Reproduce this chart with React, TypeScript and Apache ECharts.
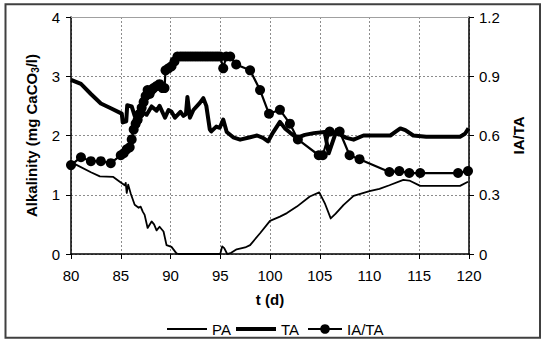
import React, { useEffect, useRef } from 'react';
import * as echarts from 'echarts';

// Partial alkalinity (PA), mg CaCO3/l
const paDays = [80, 80.6, 82, 82.9, 84.25, 84.9, 85.4, 85.5, 85.6, 85.75, 86, 86.4, 86.8, 87.0, 87.2, 87.4, 87.7, 88.1, 88.35, 88.6, 88.9, 89.3, 89.6, 90.1, 90.6, 90.8, 95.0, 95.2, 95.4, 95.7, 96.1, 96.65, 97.5, 98, 99, 100, 101, 101.7, 102.7, 104, 104.95, 105.5, 106.1, 106.6, 107.4, 108.4, 110, 111, 112, 113.4, 114, 115.1, 119.1, 119.9];
const paValues = [1.55, 1.5, 1.38, 1.31, 1.3, 1.22, 1.16, 1.2, 1.03, 1.17, 1.02, 0.83, 0.78, 0.8, 0.72, 0.66, 0.44, 0.55, 0.5, 0.4, 0.46, 0.38, 0.15, 0.12, 0.01, 0, 0, 0.13, 0.1, 0.0, 0.02, 0.08, 0.11, 0.15, 0.35, 0.56, 0.63, 0.69, 0.8, 0.97, 1.04, 0.86, 0.6, 0.68, 0.83, 0.98, 1.06, 1.1, 1.16, 1.25, 1.24, 1.15, 1.15, 1.22];

// Total alkalinity (TA), mg CaCO3/l
const taDays = [80, 81, 82, 83, 84, 85.1, 85.2, 85.55, 85.65, 86.1, 86.4, 86.9, 87.6, 88.1, 88.6, 88.9, 89.45, 89.8, 90.1, 90.45, 91.0, 91.3, 91.55, 91.7, 91.95, 92.3, 92.95, 93.3, 93.6, 93.95, 94.1, 94.6, 94.95, 95.3, 95.65, 96.3, 97, 98, 98.7, 99.3, 99.8, 100.3, 101, 101.5, 102, 102.7, 103.5, 104.4, 105.5, 105.9, 106.7, 107.2, 107.7, 108.4, 109.4, 111, 112.1, 112.6, 113.1, 113.6, 114.4, 115.7, 119.1, 119.6, 119.95];
const taValues = [2.94, 2.87, 2.7, 2.54, 2.46, 2.37, 2.22, 2.24, 2.51, 2.49, 2.33, 2.43, 2.35, 2.49, 2.42, 2.5, 2.3, 2.43, 2.4, 2.3, 2.4, 2.33, 2.36, 2.65, 2.3, 2.43, 2.55, 2.63, 2.5, 2.1, 2.07, 2.15, 2.13, 2.27, 2.06, 1.97, 1.93, 1.97, 2.0, 1.96, 1.9, 2.05, 2.23, 2.12, 2.05, 1.96, 2.01, 2.04, 2.06, 1.7, 2.09, 2.0, 1.96, 1.93, 2.0, 2.0, 2.0, 2.06, 2.12, 2.09, 2.0, 1.98, 1.98, 2.03, 2.12];

// Intermediate / total alkalinity ratio (IA/TA)
const ratioDays = [80, 81, 82, 83, 84, 85, 85.3, 85.6, 85.9, 86.1, 86.3, 86.5, 86.7, 86.9, 87.1, 87.3, 87.5, 87.7, 87.9, 88.1, 88.3, 88.6, 88.9, 89.2, 89.4, 89.5, 89.8, 90.1, 90.4, 90.7, 91.0, 91.25, 91.5, 91.75, 92.0, 92.25, 92.5, 92.75, 93.0, 93.25, 93.5, 93.75, 94.0, 94.25, 94.5, 94.75, 95.0, 95.3, 95.6, 96.0, 96.6, 98.0, 99.0, 99.9, 101.0, 102.0, 102.8, 104.9, 105.3, 106.0, 107.0, 108.0, 109.0, 112.0, 113.0, 114.0, 115.1, 118.9, 119.9];
const ratioValues = [0.45, 0.49, 0.47, 0.47, 0.46, 0.5, 0.51, 0.53, 0.54, 0.58, 0.63, 0.66, 0.68, 0.71, 0.74, 0.77, 0.8, 0.83, 0.81, 0.83, 0.84, 0.85, 0.86, 0.84, 0.84, 0.93, 0.94, 0.95, 0.975, 1.0, 1.0, 1.0, 1.0, 1.0, 1.0, 1.0, 1.0, 1.0, 1.0, 1.0, 1.0, 1.0, 1.0, 1.0, 1.0, 1.0, 1.0, 0.94, 1.0, 1.0, 0.96, 0.93, 0.83, 0.71, 0.73, 0.66, 0.58, 0.5, 0.5, 0.62, 0.62, 0.5, 0.48, 0.415, 0.42, 0.41, 0.41, 0.41, 0.42];

const FONT = '"Liberation Sans", Arial, Helvetica, sans-serif';

const zip = (xs: number[], ys: number[]) => xs.map((x, i) => [x, ys[i]]);

const tickText = { fontSize: 15, color: '#000', fontFamily: FONT };
const titleText = { fontSize: 15, fontWeight: 'bold' as const, color: '#000', fontFamily: FONT };
const gridLine = { show: true, lineStyle: { color: '#8c8c8c', type: [2, 2], width: 1 } };

export default function App() {
  const ref = useRef<HTMLDivElement>(null);

  useEffect(() => {
    const chart = echarts.init(ref.current!, null, { renderer: 'svg' });
    chart.setOption({
      animation: false,
      backgroundColor: '#fff',
      grid: { left: 71, right: 73, top: 17, bottom: 86 },
      graphic: [
        {
          type: 'rect',
          silent: true,
          shape: { x: 5.5, y: 4.3, width: 534.5, height: 333.4 },
          style: { fill: 'none', stroke: '#404040', lineWidth: 2 },
        },
      ],
      legend: [
        {
          data: ['PA'], left: 167, top: 321.5, padding: 0, icon: 'rect',
          itemWidth: 40, itemHeight: 2, selectedMode: false, textStyle: tickText,
        },
        {
          data: ['TA'], left: 236, top: 321.5, padding: 0, icon: 'rect',
          itemWidth: 40, itemHeight: 4, selectedMode: false, textStyle: tickText,
        },
        {
          data: ['IA/TA'], left: 307, top: 321.5, padding: 0,
          itemWidth: 34, itemHeight: 12, selectedMode: false, textStyle: tickText,
        },
      ],
      xAxis: [
        {
          type: 'value', min: 80, max: 120, interval: 5, position: 'bottom',
          name: 't (d)', nameLocation: 'middle', nameGap: 38, nameTextStyle: titleText,
          axisLine: { onZero: false, lineStyle: { color: '#000', width: 1.5 } },
          axisTick: { show: true, length: 5, lineStyle: { color: '#000', width: 1 } },
          axisLabel: { ...tickText, margin: 14 },
          splitLine: gridLine,
        },
        {
          type: 'value', min: 80, max: 120, position: 'top',
          axisLine: { show: true, onZero: false, lineStyle: { color: '#a0a0a0', width: 1 } },
          axisTick: { show: false }, axisLabel: { show: false }, splitLine: { show: false },
        },
      ],
      yAxis: [
        {
          type: 'value', min: 0, max: 4, interval: 1, position: 'left',
          name: 'Alkalinity (mg CaCO{sub|3}/l)', nameLocation: 'middle', nameGap: 26, nameRotate: 90,
          nameTextStyle: {
            ...titleText,
            rich: {
              sub: { fontSize: 10, fontWeight: 'bold', color: '#000', fontFamily: FONT, verticalAlign: 'top', padding: [8, 0, 0, 0] },
            },
          },
          axisLine: { show: true, onZero: false, lineStyle: { color: '#000', width: 1.5 } },
          axisTick: { show: true, length: 5, lineStyle: { color: '#000', width: 1 } },
          axisLabel: { ...tickText, margin: 11 },
          splitLine: gridLine,
        },
        {
          type: 'value', min: 0, max: 1.2, interval: 0.3, position: 'right',
          name: 'IA/TA', nameLocation: 'middle', nameGap: 39, nameRotate: 90, nameTextStyle: titleText,
          axisLine: { show: true, onZero: false, lineStyle: { color: '#000', width: 1.5 } },
          axisTick: { show: true, length: 5, lineStyle: { color: '#000', width: 1 } },
          axisLabel: { ...tickText, margin: 10, formatter: (v: number) => (v === 0 ? '0' : v.toFixed(1)) },
          splitLine: { show: false },
        },
      ],
      series: [
        {
          name: 'PA', type: 'line', data: zip(paDays, paValues), symbol: 'none',
          lineStyle: { color: '#000', width: 1.8, join: 'round' }, itemStyle: { color: '#000' }, z: 2,
        },
        {
          name: 'TA', type: 'line', data: zip(taDays, taValues), symbol: 'none',
          lineStyle: { color: '#000', width: 4, join: 'round' }, itemStyle: { color: '#000' }, z: 3,
        },
        {
          name: 'IA/TA', type: 'line', yAxisIndex: 1, data: zip(ratioDays, ratioValues),
          symbol: 'circle', symbolSize: 10, showSymbol: true, showAllSymbol: true,
          lineStyle: { color: '#000', width: 2.2, join: 'round' }, itemStyle: { color: '#000' }, z: 4,
        },
      ],
    });
    return () => chart.dispose();
  }, []);

  return (
    <div
      ref={ref}
      style={{ position: 'fixed', left: 0, top: 0, width: 542, height: 340, background: '#fff' }}
    />
  );
}
